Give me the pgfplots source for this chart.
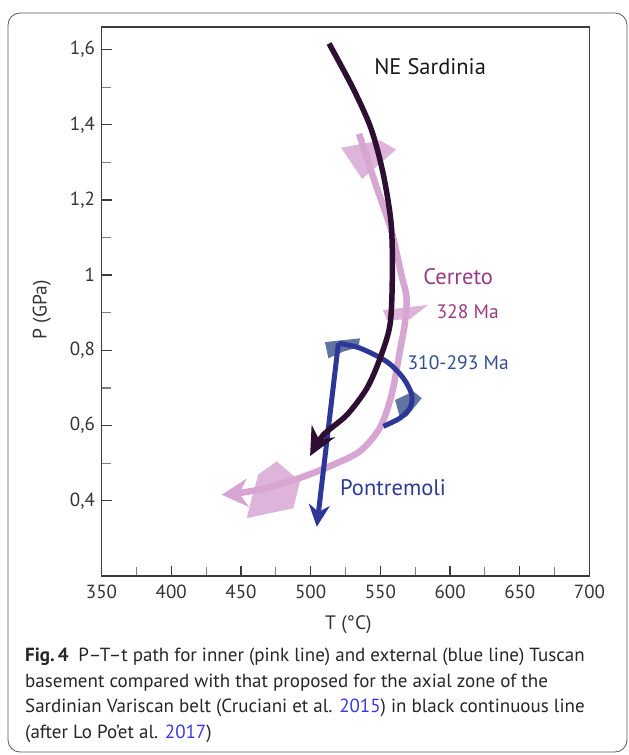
\documentclass[border=0pt]{standalone}
\usepackage{fontspec}
\setmainfont{PT Sans}
\usepackage{pgfplots}
\pgfplotsset{compat=1.18}
\usetikzlibrary{arrows.meta}

\definecolor{sardinia}{RGB}{45,15,50}
\definecolor{pinkline}{RGB}{215,165,210}
\definecolor{pinkbox}{RGB}{218,172,214}
\definecolor{blueline}{RGB}{45,55,150}
\definecolor{bluebox}{RGB}{80,100,150}
\definecolor{cerreto}{RGB}{152,58,134}
\definecolor{pontr}{RGB}{46,58,146}
\definecolor{agetxt}{RGB}{47,78,142}
\definecolor{cite}{RGB}{58,58,219}
\definecolor{axisgray}{RGB}{60,60,60}

\begin{document}
\begin{tikzpicture}
% page frame, 629 x 755
\path[use as bounding box] (0pt,0pt) rectangle (629pt,755pt);
\draw[gray!70!black, line width=0.8pt, rounded corners=12pt] (8pt,3pt) rectangle (627pt,742pt);

\begin{axis}[
    at={(101.5pt,179pt)}, anchor=south west,
    scale only axis,
    width=488pt, height=549pt,
    xmin=350, xmax=700,
    ymin=0.2, ymax=1.66,
    xtick={350,400,...,700},
    ytick={0.4,0.6,...,1.6},
    minor x tick num=1,
    minor y tick num=1,
    tick align=inside,
    xtick pos=bottom, ytick pos=left,
    major tick length=10pt, minor tick length=9pt,
    every tick/.style={axisgray, line width=1.4pt},
    minor tick style={gray, line width=1.1pt},
    axis line style={axisgray, line width=1.5pt},
    /pgf/number format/use comma,
    /pgf/number format/assume math mode=true,
    ticklabel style={font=\fontsize{19}{20}\selectfont, text=black!80},
    xticklabel style={yshift=-5pt},
    yticklabel style={xshift=-3pt},
    xlabel={T (°C)}, ylabel={P (GPa)},
    label style={font=\fontsize{19.5}{21}\selectfont, text=black!80},
    xlabel style={at={(axis description cs:0.506,-0.089)}, anchor=center},
    ylabel style={at={(axis description cs:-0.1225,0.485)}, anchor=center},
    clip=false,
]
% Cerreto error wedges
\addplot[fill=pinkbox, draw=none, opacity=0.9] coordinates {
    (521.8,1.339) (549.8,1.358) (561.3,1.334) (536.9,1.256)} -- cycle;
\addplot[fill=pinkbox, draw=none, opacity=0.9] coordinates {
    (551.9,0.907) (584.2,0.921) (571.3,0.883) (554.7,0.880)} -- cycle;
\addplot[fill=pinkbox, draw=none, opacity=0.9] coordinates {
    (462.5,0.470) (475.7,0.505) (492.4,0.452) (487.6,0.380) (454.2,0.354) (457.7,0.407)} -- cycle;
% Cerreto path
\addplot[pinkline, line width=6.5pt, smooth, -{Stealth[length=26pt, width=28pt]}] coordinates {
    (534.7,1.376) (546.3,1.245) (557.7,1.121) (564.9,1.004) (568.8,0.94)
    (567.5,0.87) (564.1,0.80) (558.2,0.684) (549.8,0.595) (535.4,0.532)
    (516.3,0.496) (492.4,0.461) (468.5,0.434) (449.4,0.421) (436.2,0.416)};
% Pontremoli error wedges
\addplot[fill=bluebox, draw=none, opacity=0.9] coordinates {
    (510.3,0.822) (535.4,0.832) (534.2,0.808) (523.5,0.797) (512.7,0.779)} -- cycle;
\addplot[fill=bluebox, draw=none, opacity=0.9] coordinates {
    (560.6,0.668) (573.7,0.691) (579.7,0.673) (569.0,0.624) (564.1,0.620)} -- cycle;
% Pontremoli path
\addplot[blueline, line width=5pt, smooth] coordinates {
    (552.2,0.598) (564.1,0.620) (571.3,0.647) (572.5,0.682) (566.5,0.726)
    (554.6,0.770) (535.4,0.806) (519.9,0.819)};
\addplot[blueline, line width=5pt, -{Stealth[length=22pt, width=21pt]}] coordinates {
    (519.9,0.819) (504.4,0.331)};
% NE Sardinia path
\addplot[sardinia, line width=5.5pt, smooth, -{Stealth[length=28pt, width=26pt]}] coordinates {
    (513.2,1.616) (530.4,1.497) (543.3,1.390) (551.9,1.272) (557.7,1.138)
    (558.6,1.004) (557.0,0.870) (549.8,0.779) (540.3,0.699) (525.9,0.628)
    (509.1,0.575) (499.6,0.519)};

\node[text=black!90, font=\fontsize{22.5}{24}\selectfont] at (axis cs:585.7,1.555) {NE Sardinia};
\node[text=cerreto, font=\fontsize{22.5}{24}\selectfont] at (axis cs:605.8,0.997) {Cerreto};
\node[text=cerreto, font=\fontsize{19.5}{21}\selectfont] at (axis cs:612.6,0.903) {328 Ma};
\node[text=agetxt, font=\fontsize{19.5}{21}\selectfont] at (axis cs:605.8,0.767) {310-293 Ma};
\node[text=pontr, font=\fontsize{22.5}{24}\selectfont] at (axis cs:559.1,0.436) {Pontremoli};
\end{axis}

\node[anchor=north west, inner sep=0pt, align=left, text=black!85,
      font=\fontsize{19}{25.5}\selectfont] at (25pt,107pt)
  {\textbf{Fig.\,4}\enspace P–T–t path for inner (pink line) and external (blue line) Tuscan\\
   basement compared with that proposed for the axial zone of the\\
   Sardinian Variscan belt (Cruciani et al. \textcolor{cite}{2015}) in black continuous line\\
   (after Lo Po’et al. \textcolor{cite}{2017})};
\end{tikzpicture}
\end{document}
